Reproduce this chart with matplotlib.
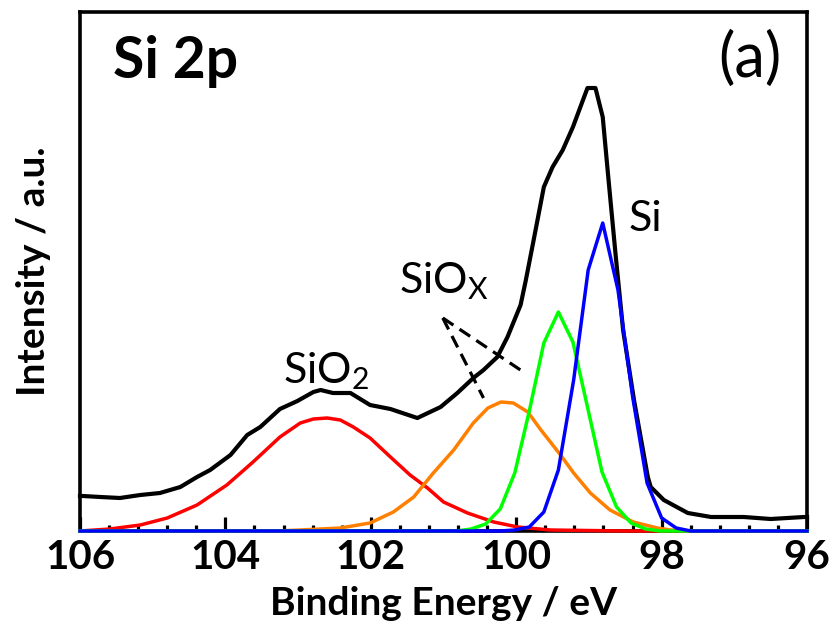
import numpy as np
import matplotlib
matplotlib.use('Agg')
import matplotlib.pyplot as plt
from matplotlib.ticker import MultipleLocator

plt.rcParams['font.family'] = ['Lato', 'DejaVu Sans']
plt.rcParams['mathtext.default'] = 'regular'

# measured spectrum (binding energy in eV, intensity in a.u.)
be_total = [106.0, 105.96, 105.72, 105.45, 105.17, 104.90, 104.62, 104.39, 104.21, 103.93,
            103.70, 103.52, 103.25, 103.01, 102.79, 102.69, 102.52, 102.28, 102.01, 101.73,
            101.36, 101.04, 100.81, 100.59, 100.45, 100.26, 100.12, 99.94, 99.87, 99.76,
            99.62, 99.50, 99.36, 99.22, 99.02, 98.91, 98.81, 98.73, 98.63, 98.53,
            98.38, 98.19, 98.15, 97.97, 97.64, 97.32, 96.87, 96.50, 96.04, 96.0]
int_total = [35, 35, 34, 33, 36, 38, 44, 54, 61, 76,
             96, 104, 122, 130, 139, 141, 138, 138, 126, 122,
             113, 124, 138, 153, 161, 174, 194, 226, 250, 291,
             344, 364, 381, 404, 443, 443, 414, 351, 274, 201,
             131, 54, 44, 31, 18, 14, 14, 12, 14, 14]

# SiO2 component
be_sio2 = [106.0, 105.59, 105.17, 104.80, 104.39, 103.98, 103.62, 103.25, 102.97, 102.79,
           102.60, 102.42, 102.24, 102.01, 101.73, 101.46, 101.22, 101.00, 100.67, 100.31,
           99.98, 99.53, 98.5, 97.0, 96.0]
int_sio2 = [0, 2, 6, 13, 26, 46, 69, 94, 108, 112,
            113, 111, 104, 93, 74, 56, 43, 29, 18, 9,
            4, 1, 0, 0, 0]

# SiOx component
be_siox = [106.0, 103.3, 102.97, 102.42, 102.01, 101.69, 101.41, 101.14, 100.86, 100.59,
           100.39, 100.21, 100.04, 99.84, 99.66, 99.53, 99.39, 99.21, 98.98, 98.71,
           98.39, 98.06, 97.88, 97.5, 96.0]
int_siox = [0, 0, 1, 3, 8, 19, 34, 58, 81, 108,
            123, 129, 128, 119, 101, 89, 76, 58, 38, 21,
            9, 3, 1, 0, 0]

# Si suboxide (green) and Si (blue) components, 0.2 eV steps
be_green = [106.0, 101.02, 100.82, 100.62, 100.42, 100.22, 100.02, 99.82, 99.62, 99.42,
            99.22, 99.02, 98.82, 98.62, 98.42, 98.22, 98.02, 96.0]
int_green = [0, 0, 0, 2, 7, 22, 58, 120, 188, 219,
             189, 124, 59, 24, 8, 2, 0, 0]

be_si = [106.0, 100.42, 100.22, 100.02, 99.82, 99.62, 99.42, 99.21, 99.01, 98.81,
         98.60, 98.40, 98.20, 98.00, 97.80, 97.60, 96.0]
int_si = [0, 0, 0, 1, 4, 19, 61, 151, 261, 308,
          241, 135, 48, 13, 3, 0, 0]

fig = plt.figure(figsize=(8.35, 6.36), dpi=100)
ax = fig.add_axes([0.0958, 0.1651, 0.8707, 0.816])

ax.plot(be_total, int_total, color='black', lw=3.0, clip_on=False, zorder=3)
ax.plot(be_sio2, int_sio2, color='#ff0000', lw=2.5, clip_on=False, zorder=4)
ax.plot(be_siox, int_siox, color='#ff8000', lw=2.5, clip_on=False, zorder=4)
ax.plot(be_green, int_green, color='#00ff00', lw=2.5, clip_on=False, zorder=4)
ax.plot(be_si, int_si, color='#0000ff', lw=2.5, clip_on=False, zorder=5)

# dashed pointers for SiOx
ax.plot([101.01, 99.90], [213, 159], color='black', lw=2.3, ls=(0, (4, 2.3)))
ax.plot([101.01, 100.45], [213, 133], color='black', lw=2.3, ls=(0, (4, 2.3)))

ax.set_xlim(106, 96)
ax.set_ylim(0, 519)
ax.set_yticks([])
ax.xaxis.set_major_locator(MultipleLocator(2))
ax.xaxis.set_minor_locator(MultipleLocator(0.4))
ax.tick_params(axis='x', which='major', direction='in', length=10, width=2.3,
               labelsize=29, pad=6)
ax.tick_params(axis='x', which='minor', direction='in', length=4.5, width=2.3)
for lab in ax.get_xticklabels():
    lab.set_fontweight('bold')
for s in ax.spines.values():
    s.set_linewidth(2.6)

ax.set_xlabel('Binding Energy / eV', fontsize=28, fontweight='bold', labelpad=7)
ax.set_ylabel('Intensity / a.u.', fontsize=28, fontweight='bold', labelpad=21)

ax.text(0.045, 0.905, 'Si 2p', transform=ax.transAxes, fontsize=41, fontweight='bold',
        va='center', ha='left')
ax.text(0.965, 0.91, '(a)', transform=ax.transAxes, fontsize=44, va='center', ha='right')
ax.text(98.45, 312, 'Si', fontsize=31, ha='left', va='center')
ax.text(102.62, 160, 'SiO$_2$', fontsize=31, ha='center', va='center')
ax.text(101.0, 250, 'SiO$_X$', fontsize=31, ha='center', va='center')

fig.savefig('out.png', dpi=100)
